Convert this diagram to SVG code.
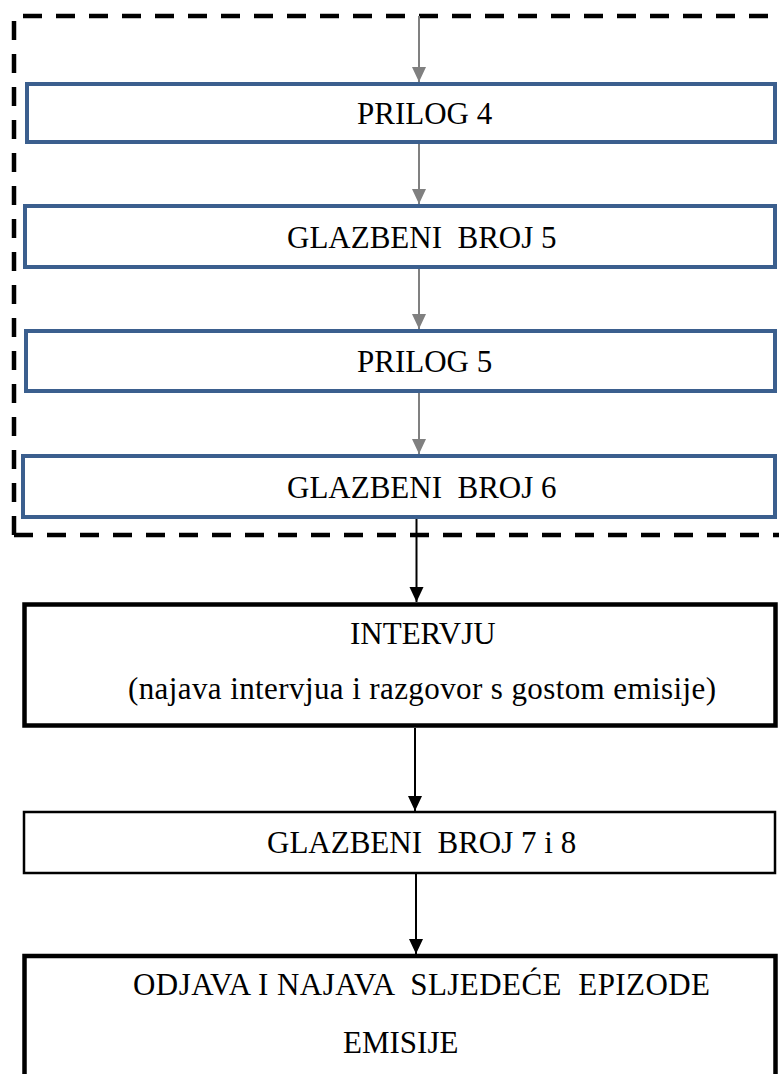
<svg xmlns="http://www.w3.org/2000/svg" width="779" height="1074" viewBox="0 0 779 1074">
  <style>
    .lbl { font-family: "Liberation Serif", "Times New Roman", serif; font-size: 31px; fill: #000; }
    .blue { fill: #fff; stroke: #3b5f8e; stroke-width: 4; }
    .thick { fill: #fff; stroke: #000; stroke-width: 4.5; }
    .thin { fill: #fff; stroke: #000; stroke-width: 2.5; }
    .dash { fill: none; stroke: #000; stroke-width: 4.5; stroke-dasharray: 19 14; }
    .garr { stroke: #808080; stroke-width: 2; fill: none; }
    .barr { stroke: #000; stroke-width: 2; fill: none; }
  </style>
  <defs>
    <marker id="ahg" markerUnits="userSpaceOnUse" markerWidth="16" markerHeight="16" refX="15" refY="7" orient="auto">
      <path d="M0,0 L15,7 L0,14 Z" fill="#808080"/>
    </marker>
    <marker id="ahb" markerUnits="userSpaceOnUse" markerWidth="16" markerHeight="16" refX="15" refY="7" orient="auto">
      <path d="M0,0 L15,7 L0,14 Z" fill="#000"/>
    </marker>
  </defs>
  <rect width="779" height="1074" fill="#fff"/>

  <g id="group-frame">
    <path class="dash" d="M14,535 L14,16 L790,16"/>
    <path class="dash" d="M14,535 L790,535"/>
  </g>

  <g id="connectors">
    <line class="garr" x1="419" y1="16" x2="419" y2="82" marker-end="url(#ahg)"/>
    <line class="garr" x1="419" y1="144" x2="419" y2="204" marker-end="url(#ahg)"/>
    <line class="garr" x1="419" y1="269" x2="419" y2="329" marker-end="url(#ahg)"/>
    <line class="garr" x1="419" y1="393" x2="419" y2="454" marker-end="url(#ahg)"/>
    <line class="barr" x1="416.5" y1="519" x2="416.5" y2="602" marker-end="url(#ahb)"/>
    <line class="barr" x1="415" y1="728" x2="415" y2="811" marker-end="url(#ahb)"/>
    <line class="barr" x1="416" y1="874" x2="416" y2="954" marker-end="url(#ahb)"/>
  </g>

  <g id="node-prilog4">
    <rect class="blue" x="27" y="84" width="748" height="58"/>
    <text class="lbl" x="357" y="124">PRILOG 4</text>
  </g>
  <g id="node-glazbeni5">
    <rect class="blue" x="25" y="206" width="750" height="61"/>
    <text class="lbl" x="287" y="248" xml:space="preserve">GLAZBENI  BROJ 5</text>
  </g>
  <g id="node-prilog5">
    <rect class="blue" x="26" y="331" width="749" height="60"/>
    <text class="lbl" x="357" y="372">PRILOG 5</text>
  </g>
  <g id="node-glazbeni6">
    <rect class="blue" x="23" y="456" width="752" height="61"/>
    <text class="lbl" x="287" y="498" xml:space="preserve">GLAZBENI  BROJ 6</text>
  </g>
  <g id="node-intervju">
    <rect class="thick" x="24.5" y="604.5" width="751" height="121"/>
    <text class="lbl" x="350" y="644">INTERVJU</text>
    <text class="lbl" x="128" y="699" textLength="588" lengthAdjust="spacing">(najava intervjua i razgovor s gostom emisije)</text>
  </g>
  <g id="node-glazbeni78">
    <rect class="thin" x="24" y="812" width="751" height="61"/>
    <text class="lbl" x="267" y="853" xml:space="preserve">GLAZBENI  BROJ 7 i 8</text>
  </g>
  <g id="node-odjava">
    <rect class="thick" x="24.5" y="956" width="751" height="200"/>
    <text class="lbl" x="133" y="995" xml:space="preserve" textLength="577" lengthAdjust="spacing">ODJAVA I NAJAVA  SLJEDEĆE  EPIZODE</text>
    <text class="lbl" x="343" y="1053">EMISIJE</text>
  </g>
</svg>
